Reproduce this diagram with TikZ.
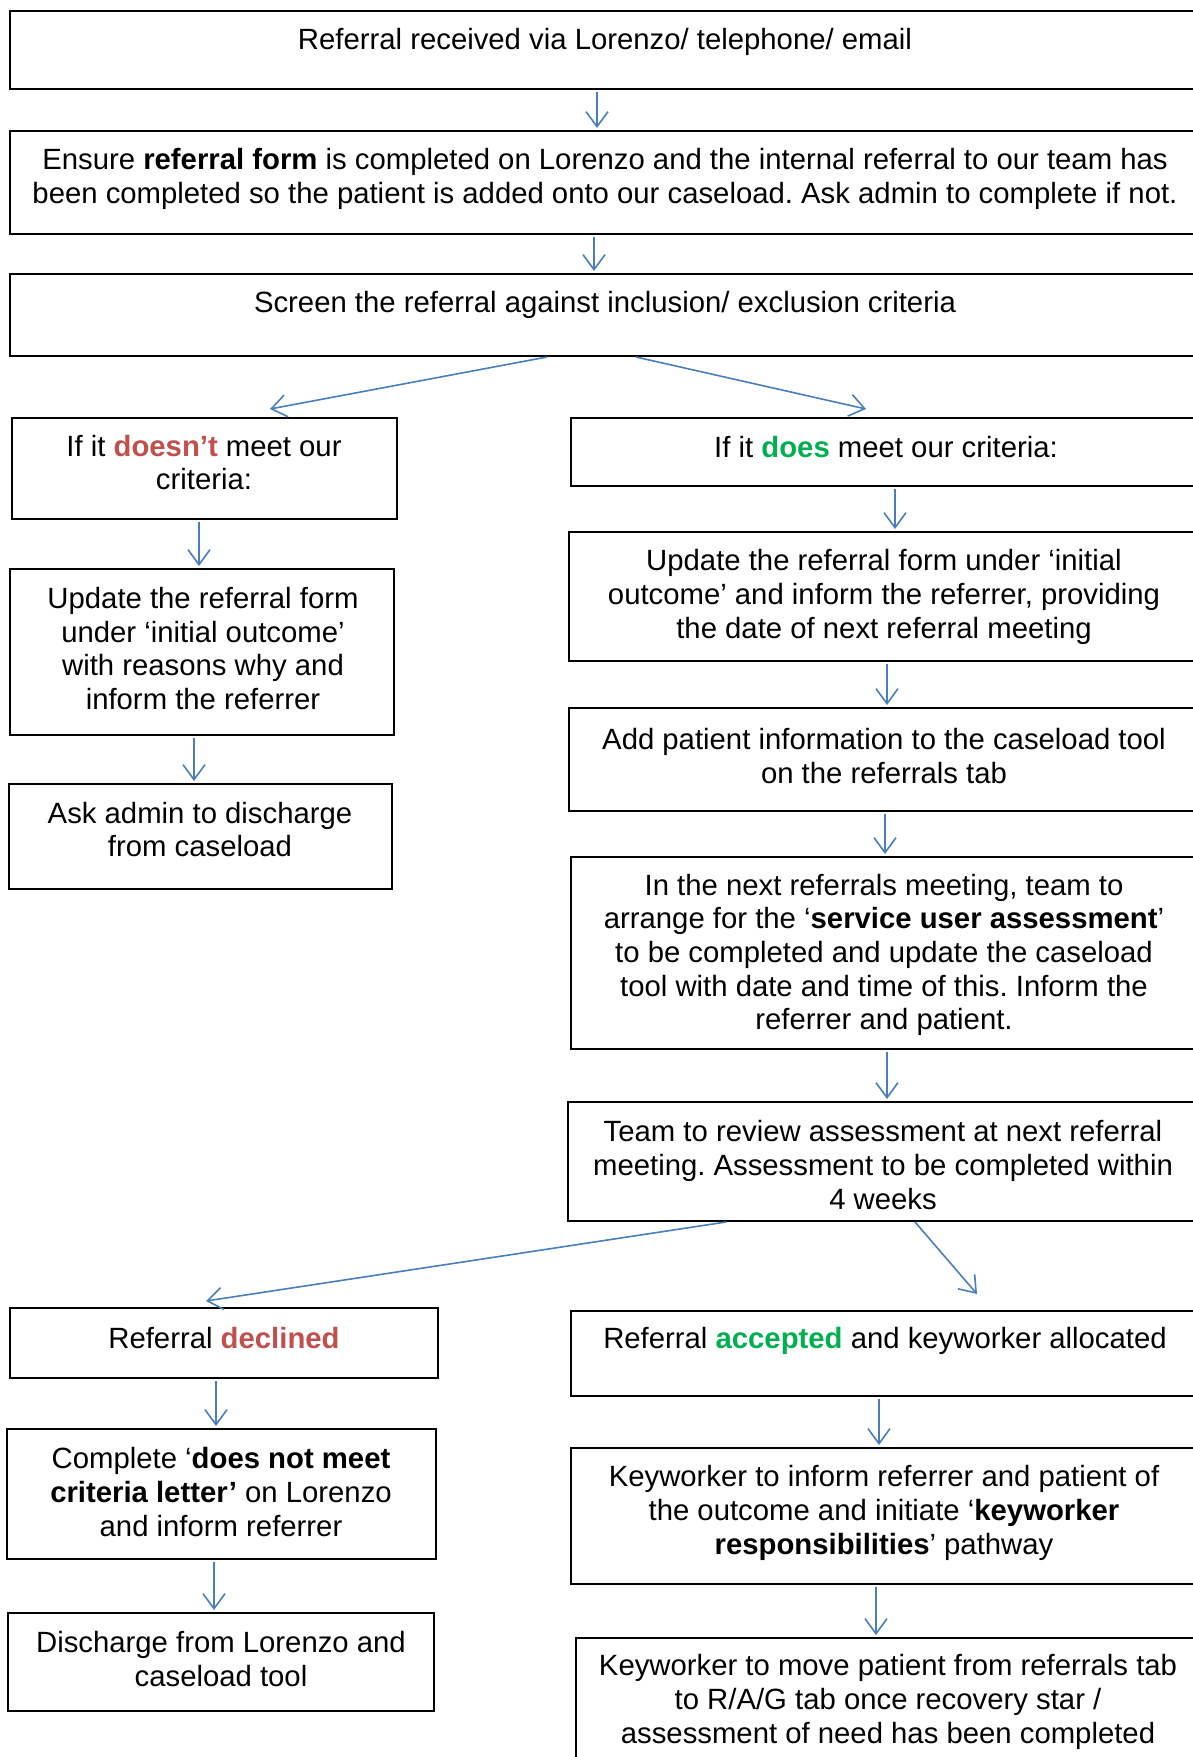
\documentclass[tikz,border=0pt]{standalone}
\usepackage{fontspec}
\setmainfont{Liberation Sans}
\usetikzlibrary{arrows.meta,fit,calc}
\definecolor{arrblue}{HTML}{4A7EBB}
\definecolor{myred}{HTML}{C0504D}
\definecolor{mygreen}{HTML}{00B050}
\frenchspacing
\tikzset{
 box/.style={draw=black, line width=2pt, inner sep=0pt, rectangle},
 txt/.style={align=center, inner sep=0pt, font=\fontsize{29.3}{33.7}\selectfont},
 arr/.style={draw=arrblue, line width=1.6pt, shorten <=2pt, shorten >=2pt, -{Straight Barb[length=15pt,width=22pt,line width=1.6pt]}},
}
\begin{document}
\begin{tikzpicture}[x=1pt,y=-1pt]
\useasboundingbox (0,0) rectangle (1193,1757);
\clip (0,0) rectangle (1193,1757);
\fill[white] (0,0) rectangle (1193,1757);
% boxes
\node[box, fit={(10,11) (1205,88.5)}] (b1) {};
\node[box, fit={(10,131) (1205,234)}] (b2) {};
\node[box, fit={(10,274) (1205,356)}] (b3) {};
\node[box, fit={(12,418) (397,519)}] (b4) {};
\node[box, fit={(571,418) (1205,486)}] (b5) {};
\node[box, fit={(10,569) (394,735)}] (b6) {};
\node[box, fit={(569,532) (1205,661)}] (b7) {};
\node[box, fit={(9,784) (392,889)}] (b8) {};
\node[box, fit={(569,708) (1205,811)}] (b9) {};
\node[box, fit={(571,857) (1205,1049)}] (b10) {};
\node[box, fit={(568,1102) (1205,1221)}] (b11) {};
\node[box, fit={(10,1308) (438,1378)}] (b12) {};
\node[box, fit={(571,1311) (1205,1396)}] (b13) {};
\node[box, fit={(7,1429) (436,1559)}] (b14) {};
\node[box, fit={(571,1448) (1205,1584)}] (b15) {};
\node[box, fit={(8,1613) (434,1711)}] (b16) {};
\node[box, fit={(576,1638) (1205,1790)}] (b17) {};
% texts
\node[txt] (t1) at (605,42) {Referral received via Lorenzo/ telephone/ email};
\node[txt] (t2) at (605,179) {Ensure \textbf{referral form} is completed on Lorenzo and the internal referral to our team has\\been completed so the patient is added onto our caseload. Ask admin to complete if not.};
\node[txt] (t3) at (605,305) {Screen the referral against inclusion/ exclusion criteria};
\node[txt] (t4) at (204,462.5) {If it \textcolor{myred}{\textbf{doesn’t}} meet our\\criteria:};
\node[txt] (t5) at (886,447) {If it \textcolor{mygreen}{\textbf{does}} meet our criteria:};
\node[txt] (t6) at (203,648.5) {Update the referral form\\under ‘initial outcome’\\with reasons why and\\inform the referrer};
\node[txt] (t7) at (884,597) {Update the referral form under ‘initial\\outcome’ and inform the referrer, providing\\the date of next referral meeting};
\node[txt] (t8) at (200,829.5) {Ask admin to discharge\\from caseload};
\node[txt] (t9) at (884,756) {Add patient information to the caseload tool\\on the referrals tab};
\node[txt] (t10) at (884,955) {In the next referrals meeting, team to\\arrange for the ‘\textbf{service user assessment}’\\to be completed and update the caseload\\tool with date and time of this. Inform the\\referrer and patient.};
\node[txt] (t11) at (883,1165) {Team to review assessment at next referral\\meeting. Assessment to be completed within\\4 weeks};
\node[txt] (t12) at (224,1338) {Referral \textcolor{myred}{\textbf{declined}}};
\node[txt] (t13) at (885,1341) {Referral \textcolor{mygreen}{\textbf{accepted}} and keyworker allocated};
\node[txt] (t14) at (221,1492) {Complete ‘\textbf{does not meet}\\\textbf{criteria letter’} on Lorenzo\\and inform referrer};
\node[txt] (t15) at (884,1513) {Keyworker to inform referrer and patient of\\the outcome and initiate ‘\textbf{keyworker}\\\textbf{responsibilities}’ pathway};
\node[txt] (t16) at (221,1659) {Discharge from Lorenzo and\\caseload tool};
\node[txt] (t17) at (888,1702) {Keyworker to move patient from referrals tab\\to R/A/G tab once recovery star /\\assessment of need has been completed};
% connectors
\draw[arr] (b1.south -| 597,0) -- (b2.north -| 597,0);
\draw[arr] (b2.south -| 594,0) -- (b3.north -| 594,0);
\draw[arr, shorten <=0pt, shorten >=0pt] (b3.south -| 547,0) -- ($(b4.north -| 270,0)+(0,-8)$);
\draw[arr, shorten <=0pt, shorten >=0pt] (b3.south -| 636,0) -- ($(b5.north -| 866,0)+(0,-8)$);
\draw[arr] (b4.south -| 199,0) -- (b6.north -| 199,0);
\draw[arr] (b6.south -| 194,0) -- (b8.north -| 194,0);
\draw[arr] (b5.south -| 895,0) -- (b7.north -| 895,0);
\draw[arr] (b7.south -| 887,0) -- (b9.north -| 887,0);
\draw[arr] (b9.south -| 885,0) -- (b10.north -| 885,0);
\draw[arr] (b10.south -| 887,0) -- (b11.north -| 887,0);
\draw[arr, shorten <=0pt, shorten >=0pt] (b11.south -| 726,0) -- ($(b12.north -| 206,0)+(0,-6)$);
\draw[arr, shorten <=0pt, shorten >=0pt] (b11.south -| 915,0) -- ($(b13.north -| 977,0)+(0,-16)$);
\draw[arr] (b12.south -| 216,0) -- (b14.north -| 216,0);
\draw[arr] (b14.south -| 214,0) -- (b16.north -| 214,0);
\draw[arr] (b13.south -| 879,0) -- (b15.north -| 879,0);
\draw[arr] (b15.south -| 876,0) -- (b17.north -| 876,0);
\end{tikzpicture}
\end{document}
